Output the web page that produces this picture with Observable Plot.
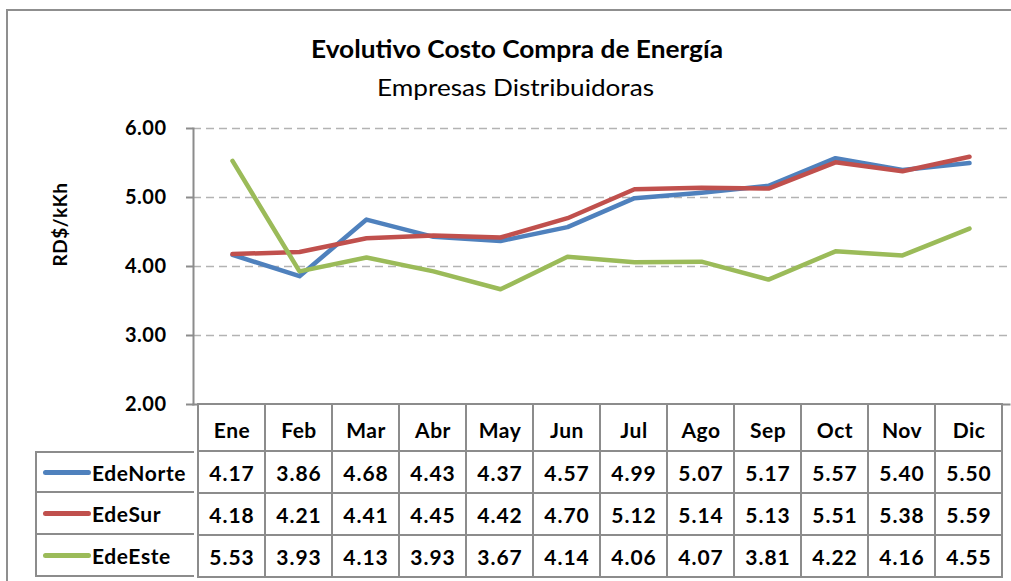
<!DOCTYPE html>
<html>
<head>
<meta charset="utf-8">
<script src="https://cdn.jsdelivr.net/npm/d3@7"></script>
<script src="https://cdn.jsdelivr.net/npm/@observablehq/plot@0.6"></script>
<style>
  body { margin: 0; background: #fff; font-family: Lato, "Open Sans", sans-serif; }
  #wrap { position: relative; width: 1011px; height: 581px; overflow: hidden; background: #fff; }
  #border { position: absolute; left: 6px; top: 9px; width: 1020px; height: 600px; border: 2px solid #8f8f8f; box-sizing: border-box; }
  .abs { position: absolute; left: 0; }
  #legend { position: absolute; left: 35px; top: 451px; width: 159px; }
  .lrow { height: 42px; box-sizing: border-box; border: 2px solid #8c8c8c; border-top-width: 0; border-right-width: 0;
          display: flex; align-items: center; font-weight: bold; font-size: 21px; letter-spacing: 0.6px; color: #000; }
  .lrow:first-child { border-top-width: 2px; height: 42px; }
  .sw { display: inline-block; width: 48px; height: 5px; border-radius: 2.5px; margin-left: 6px; margin-right: 1px; }
</style>
</head>
<body>
<div id="wrap">
  <div id="border"></div>
  <svg class="abs" style="top:0" width="1011" height="110">
    <text id="t1" x="311" y="58" font-family="Lato" font-weight="bold" font-size="25" textLength="412" lengthAdjust="spacingAndGlyphs"></text>
    <text id="t2" x="377" y="96" font-family="Lato" font-size="24" textLength="277" lengthAdjust="spacingAndGlyphs"></text>
  </svg>
  <div id="chart" class="abs" style="top:110px"></div>
  <div id="header" class="abs" style="top:404px"></div>
  <div id="body" class="abs" style="top:451px"></div>
  <div id="legend"></div>
</div>
<script>
const title = "Evolutivo Costo Compra de Energía";
const subtitle = "Empresas Distribuidoras";
const yLabel = "RD$/kKh";
const months = ["Ene", "Feb", "Mar", "Abr", "May", "Jun", "Jul", "Ago", "Sep", "Oct", "Nov", "Dic"];
const seriesNames = ["EdeNorte", "EdeSur", "EdeEste"];
const edeNorte = [4.17, 3.86, 4.68, 4.43, 4.37, 4.57, 4.99, 5.07, 5.17, 5.57, 5.40, 5.50];
const edeSur   = [4.18, 4.21, 4.41, 4.45, 4.42, 4.70, 5.12, 5.14, 5.13, 5.51, 5.38, 5.59];
const edeEste  = [5.53, 3.93, 4.13, 3.93, 3.67, 4.14, 4.06, 4.07, 3.81, 4.22, 4.16, 4.55];
const colors = ["#4F81BD", "#C0504D", "#9BBB59"];
const yTicks = [2, 3, 4, 5, 6];
const gridTicks = [3, 4, 5, 6];

document.getElementById("t1").textContent = title;
document.getElementById("t2").textContent = subtitle;

const seriesValues = [edeNorte, edeSur, edeEste];
const rows = seriesNames.flatMap((s, i) => months.map((m, j) => ({series: s, month: m, value: seriesValues[i][j]})));

const fmt = d3.format(".2f");
const xRange = [193, 1007];
const gridColor = "#8c8c8c";
const fontFamily = "Lato, 'Open Sans', sans-serif";

const chart = Plot.plot({
  width: 1011, height: 300,
  marginLeft: 193, marginRight: 2, marginTop: 18, marginBottom: 6,
  style: {fontFamily, background: "transparent", overflow: "visible", color: "#000", letterSpacing: "0.5px"},
  x: {type: "point", domain: months, range: xRange, padding: 0.5, axis: null},
  y: {domain: [2, 6], axis: null},
  color: {domain: seriesNames, range: colors},
  marks: [
    Plot.ruleY(gridTicks, {stroke: "#b3b3b3", strokeWidth: 1.6, strokeDasharray: "8,5"}),
    Plot.axisY({ticks: yTicks, tickFormat: fmt, tickSize: 7, tickPadding: 20, fontSize: 20, fontWeight: "bold", stroke: gridColor, strokeWidth: 2, label: null}),
    Plot.frame({anchor: "left", stroke: gridColor, strokeWidth: 2}),
    Plot.frame({anchor: "bottom", stroke: gridColor, strokeWidth: 2}),
    Plot.text([yLabel], {frameAnchor: "left", rotate: -90, dx: -133, fontSize: 19, fontWeight: "bold", fill: "#000"}),
    Plot.line(rows, {x: "month", y: "value", z: "series", stroke: "series", strokeWidth: 4.5, strokeLinejoin: "round", strokeLinecap: "round"})
  ]
});
document.getElementById("chart").appendChild(chart);

const header = Plot.plot({
  width: 1011, height: 48,
  marginLeft: 193, marginRight: 4, marginTop: 0, marginBottom: 1,
  style: {fontFamily, background: "transparent", overflow: "visible", color: "#000", letterSpacing: "0.5px"},
  x: {type: "band", domain: months, range: xRange, padding: 0, axis: null},
  marks: [
    Plot.cell(months, {x: d => d, fill: "white", stroke: gridColor, strokeWidth: 2}),
    Plot.text(months, {x: d => d, text: d => d, frameAnchor: "middle", dy: 3, fontSize: 21, fontWeight: "bold", fill: "#000"})
  ]
});
document.getElementById("header").appendChild(header);

const body = Plot.plot({
  width: 1011, height: 128,
  marginLeft: 193, marginRight: 4, marginTop: 0, marginBottom: 2,
  style: {fontFamily, background: "transparent", overflow: "visible", color: "#000", letterSpacing: "1px"},
  x: {type: "band", domain: months, range: xRange, padding: 0, axis: null},
  y: {type: "band", domain: seriesNames, padding: 0, axis: null},
  marks: [
    Plot.cell(rows, {x: "month", y: "series", fill: "white", stroke: gridColor, strokeWidth: 2}),
    Plot.text(rows, {x: "month", y: "series", text: d => fmt(d.value), dy: 2, fontSize: 21, fontWeight: "bold", fill: "#000"})
  ]
});
document.getElementById("body").appendChild(body);

const legend = document.getElementById("legend");
seriesNames.forEach((s, i) => {
  const row = document.createElement("div");
  row.className = "lrow";
  const sw = document.createElement("span");
  sw.className = "sw";
  sw.style.background = colors[i];
  row.appendChild(sw);
  row.appendChild(document.createTextNode(s));
  legend.appendChild(row);
});
</script>
</body>
</html>
